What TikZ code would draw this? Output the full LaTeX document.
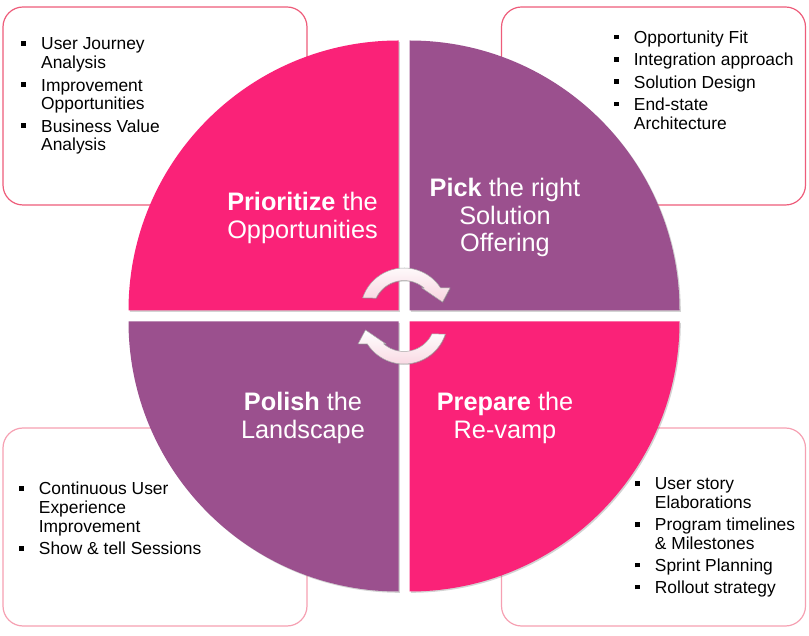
\documentclass[tikz,border=0pt]{standalone}
\usepackage{fontspec}
\setmainfont{Liberation Sans}
\usetikzlibrary{shadows}
\definecolor{qpink}{RGB}{250,34,120}
\definecolor{qpurple}{RGB}{155,80,142}
\definecolor{boxtop}{RGB}{238,92,122}
\definecolor{boxbot}{RGB}{246,160,178}
\definecolor{arrfill}{RGB}{248,212,223}
\newcommand{\bul}{\makebox[20pt][l]{\raisebox{4.2pt}{\rule{4.6pt}{4.6pt}}}}
\begin{document}
\begin{tikzpicture}[x=1pt,y=1pt,
  boxst/.style={draw, rounded corners=20pt, line width=1.2pt, fill=white,
    minimum width=304pt, minimum height=198pt, inner sep=0pt},
  quadst/.style={drop shadow={shadow xshift=1.3pt, shadow yshift=-1.3pt, opacity=0.35}},
  listtxt/.style={anchor=base west, inner sep=0pt, font=\fontsize{17.4}{19}\selectfont, text=black},
  ttl/.style={anchor=base, inner sep=0pt, font=\fontsize{25.3}{28}\selectfont, text=white},
  arrst/.style={draw=gray!70, line width=0.5pt, top color=white, bottom color=arrfill,
    drop shadow={shadow xshift=1pt, shadow yshift=-1pt, opacity=0.3}},
]
\useasboundingbox (0,0) rectangle (809,635);

% boxes
\node[boxst, draw=boxtop] (boxTL) at (155,529) {};
\node[boxst, draw=boxtop] (boxTR) at (653.5,529) {};
\node[boxst, draw=boxbot] (boxBL) at (155,108) {};
\node[boxst, draw=boxbot] (boxBR) at (653.5,108) {};

% quadrants
\fill[qpink, quadst] (398.5,324.5) -- ++(-270,0) arc[start angle=180, end angle=90, radius=270] -- cycle;
\fill[qpurple, quadst] (409.5,324.5) -- ++(0,270) arc[start angle=90, end angle=0, radius=270] -- cycle;
\fill[qpink, quadst] (409.5,313.5) -- ++(270,0) arc[start angle=0, end angle=-90, radius=270] -- cycle;
\fill[qpurple, quadst] (398.5,313.5) -- ++(0,-270) arc[start angle=270, end angle=180, radius=270] -- cycle;

% titles
\node[ttl] (tTL1) at (302.5,424.8) {\textbf{Prioritize} the};
\node[ttl] (tTL2) at (302.5,396.9) {Opportunities};
\node[ttl] (tTR1) at (505,438.2) {\textbf{Pick} the right};
\node[ttl] (tTR2) at (505,410.3) {Solution};
\node[ttl] (tTR3) at (505,383.5) {Offering};
\node[ttl] (tBL1) at (303,224) {\textbf{Polish} the};
\node[ttl] (tBL2) at (303,196) {Landscape};
\node[ttl] (tBR1) at (505,224) {\textbf{Prepare} the};
\node[ttl] (tBR2) at (505,196) {Re-vamp};

% cycle arrows
\begin{scope}[shift={(404,323.5)}]
\path[arrst] (161.9:43.5) arc[start angle=161.9, end angle=32.7, radius=43.5]
  -- (46,23.5) -- (38.5,9.5) -- (18,23.5) -- (49.3:31)
  arc[start angle=49.3, end angle=154.2, radius=31] -- cycle;
\end{scope}
\begin{scope}[shift={(404,314.5)}, rotate=180]
\path[arrst] (161.9:43.5) arc[start angle=161.9, end angle=32.7, radius=43.5]
  -- (46,23.5) -- (38.5,9.5) -- (18,23.5) -- (49.3:31)
  arc[start angle=49.3, end angle=154.2, radius=31] -- cycle;
\end{scope}

% list top-left
\node[listtxt] (l1a) at (21,585) {\bul User Journey};
\node[listtxt] (l1b) at (41,566.2) {Analysis};
\node[listtxt] (l1c) at (21,543.9) {\bul Improvement};
\node[listtxt] (l1d) at (41,525.1) {Opportunities};
\node[listtxt] (l1e) at (21,502.8) {\bul Business Value};
\node[listtxt] (l1f) at (41,484) {Analysis};

% list top-right
\node[listtxt] (l2a) at (613.7,591.5) {\bul Opportunity Fit};
\node[listtxt] (l2b) at (613.7,569.2) {\bul Integration approach};
\node[listtxt] (l2c) at (613.7,546.9) {\bul Solution Design};
\node[listtxt] (l2d) at (613.7,524.6) {\bul End-state};
\node[listtxt] (l2e) at (633.7,505.8) {Architecture};

% list bottom-left
\node[listtxt] (l3a) at (18.7,140) {\bul Continuous User};
\node[listtxt] (l3b) at (38.7,121) {Experience};
\node[listtxt] (l3c) at (38.7,102) {Improvement};
\node[listtxt] (l3d) at (18.7,80) {\bul Show \& tell Sessions};

% list bottom-right
\node[listtxt] (l4a) at (634.7,145) {\bul User story};
\node[listtxt] (l4b) at (654.7,126.2) {Elaborations};
\node[listtxt] (l4c) at (634.7,104.2) {\bul Program timelines};
\node[listtxt] (l4d) at (654.7,85.4) {\& Milestones};
\node[listtxt] (l4e) at (634.7,63.4) {\bul Sprint Planning};
\node[listtxt] (l4f) at (634.7,41.4) {\bul Rollout strategy};
\end{tikzpicture}
\end{document}
